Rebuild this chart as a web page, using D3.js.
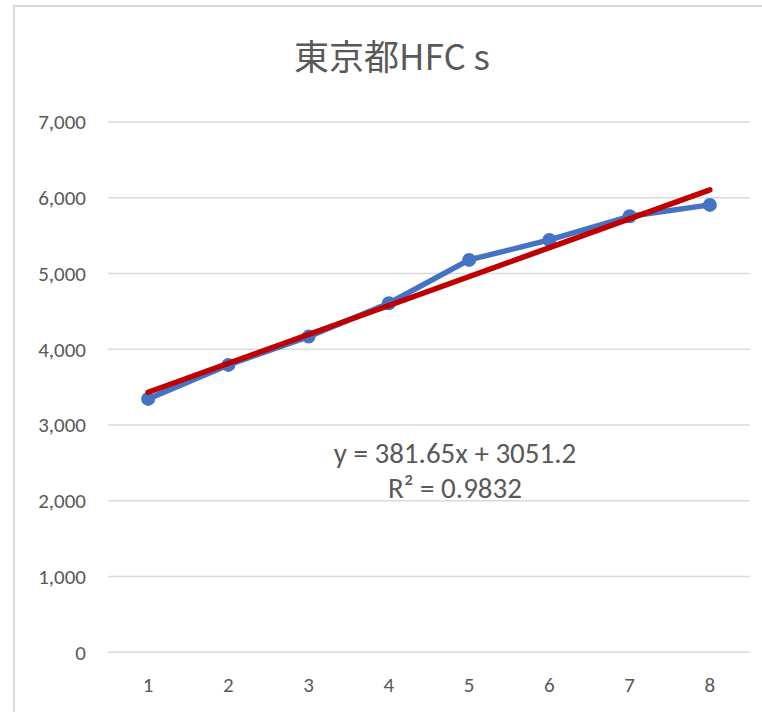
<!DOCTYPE html>
<html>
<head>
<meta charset="utf-8">
<script src="https://cdn.jsdelivr.net/npm/d3@7"></script>
<style>
  html, body { margin: 0; padding: 0; background: #fff; }
  svg { display: block; }
</style>
</head>
<body>
<svg id="chart" width="762" height="712"></svg>
<script>
// Tokyo HFCs series
const categories = [1, 2, 3, 4, 5, 6, 7, 8];
const values = [3345, 3794, 4167, 4608, 5180, 5443, 5755, 5906];
const yTicks = [0, 1000, 2000, 3000, 4000, 5000, 6000, 7000];
const trendSlope = 381.65;
const trendIntercept = 3051.2;
const trendR2 = 0.9832;
const titleText = "東京都HFC s";

const svg = d3.select("#chart");
const W = 762, H = 712;
const fontLatin = "Carlito, Lato, 'Open Sans', sans-serif";
const fontTitle = "'Noto Sans CJK JP', 'Noto Sans', sans-serif";
const textColor = "#595959";

// chart frame
svg.append("path")
  .attr("d", `M14,${H} L14,6 L${W},6`)
  .attr("fill", "none")
  .attr("stroke", "#d9d9d9")
  .attr("stroke-width", 2);

const plot = { left: 108, right: 750, top: 122, bottom: 652.3 };

const x = d3.scaleBand()
  .domain(categories)
  .range([plot.left, plot.right]);

const y = d3.scaleLinear()
  .domain([0, 7000])
  .range([plot.bottom, plot.top]);

const cx = d => x(d) + x.bandwidth() / 2;

// gridlines
svg.append("g")
  .selectAll("line")
  .data(yTicks)
  .join("line")
  .attr("x1", plot.left)
  .attr("x2", plot.right)
  .attr("y1", d => y(d))
  .attr("y2", d => y(d))
  .attr("stroke", "#d9d9d9")
  .attr("stroke-width", 1.5);

// y axis labels
const yAxis = d3.axisLeft(y)
  .tickValues(yTicks)
  .tickFormat(d3.format(","))
  .tickSize(0)
  .tickPadding(0);
const gy = svg.append("g")
  .attr("transform", `translate(86,0)`)
  .call(yAxis);
gy.select(".domain").remove();
gy.selectAll("text")
  .attr("fill", textColor)
  .style("font-family", fontLatin)
  .style("font-size", "21px");

// x axis labels
const xAxis = d3.axisBottom(x).tickSize(0).tickPadding(0);
const gx = svg.append("g")
  .attr("transform", `translate(0,677)`)
  .call(xAxis);
gx.select(".domain").remove();
gx.selectAll("text")
  .attr("fill", textColor)
  .style("font-family", fontLatin)
  .style("font-size", "21px");

// data line
const line = d3.line()
  .x((d, i) => cx(categories[i]))
  .y(d => y(d));

svg.append("path")
  .datum(values)
  .attr("d", line)
  .attr("fill", "none")
  .attr("stroke", "#4472C4")
  .attr("stroke-width", 5.5)
  .attr("stroke-linejoin", "round")
  .attr("stroke-linecap", "round");

svg.append("g")
  .selectAll("circle")
  .data(values)
  .join("circle")
  .attr("cx", (d, i) => cx(categories[i]))
  .attr("cy", d => y(d))
  .attr("r", 7)
  .attr("fill", "#4472C4");

// linear trendline
const first = categories[0], last = categories[categories.length - 1];
svg.append("line")
  .attr("x1", cx(first))
  .attr("y1", y(trendSlope * first + trendIntercept))
  .attr("x2", cx(last))
  .attr("y2", y(trendSlope * last + trendIntercept))
  .attr("stroke", "#C00000")
  .attr("stroke-width", 5.5)
  .attr("stroke-linecap", "round");

// trendline equation
const eq = svg.append("text")
  .attr("text-anchor", "middle")
  .attr("fill", textColor)
  .style("font-family", fontLatin)
  .style("font-size", "29px");
eq.append("tspan")
  .attr("x", 455).attr("y", 463)
  .text(`y = ${trendSlope}x + ${trendIntercept}`);
eq.append("tspan")
  .attr("x", 455).attr("y", 498)
  .text(`R² = ${trendR2}`);

// title
svg.append("text")
  .attr("x", 392)
  .attr("y", 70)
  .attr("text-anchor", "middle")
  .attr("fill", textColor)
  .style("font-family", fontTitle)
  .style("font-size", "35px")
  .text(titleText);
</script>
</body>
</html>
